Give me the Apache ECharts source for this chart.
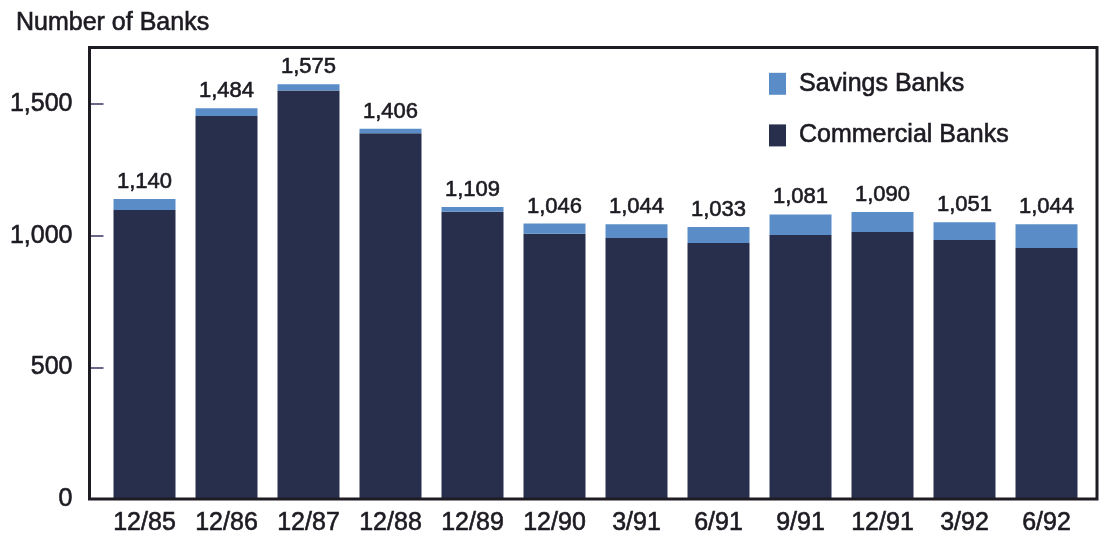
<!DOCTYPE html>
<html>
<head>
<meta charset="utf-8">
<script src="https://cdn.jsdelivr.net/npm/echarts@6/dist/echarts.min.js"></script>
<style>html,body{margin:0;padding:0;background:#fff}#c{width:1101px;height:538px}</style>
</head>
<body>
<div id="c"></div>
<script>
var categories = ['12/85','12/86','12/87','12/88','12/89','12/90','3/91','6/91','9/91','12/91','3/92','6/92'];
var commercialBanks = [1098,1455,1552,1389,1091,1008,991,972,1003,1014,984,953];
var savingsBanks = [42,29,23,17,18,38,53,61,78,76,67,91];
var totalLabels = ['1,140','1,484','1,575','1,406','1,109','1,046','1,044','1,033','1,081','1,090','1,051','1,044'];
var yTicks = [0,500,1000,1500];

var FONT = "'Liberation Sans', Arial, Helvetica, sans-serif";
var TXT = '#1d1a22';
var BW = 0.6;
var chart = echarts.init(document.getElementById('c'), null, {renderer:'canvas'});
var gridLeft = 103.5, gridRight = 13.5, gridTop = 47.5, gridBottom = 39;
chart.setOption({
  animation: false,
  backgroundColor: '#fff',
  textStyle: {fontFamily: FONT},
  title: {
    text: 'Number of Banks', left: 11, top: 6,
    textStyle: {fontFamily: FONT, fontSize: 25, fontWeight: 'normal', color: TXT, textBorderColor: TXT, textBorderWidth: BW}
  },
  legend: {
    left: 764, top: 66, orient: 'vertical',
    itemWidth: 17, itemHeight: 22, itemGap: 26,
    data: ['Savings Banks','Commercial Banks'],
    icon: 'rect',
    textStyle: {fontFamily: FONT, fontSize: 25, color: TXT, padding: [0,0,0,8], textBorderColor: TXT, textBorderWidth: BW}
  },
  graphic: [{
    type: 'rect', z: 100, silent: true,
    shape: {x: 89.5, y: gridTop, width: 1097 - 89.5, height: 538 - gridBottom - gridTop},
    style: {fill: null, stroke: '#1e1b22', lineWidth: 3}
  }],
  grid: {left: gridLeft, right: gridRight, top: gridTop, bottom: gridBottom},
  xAxis: {
    type: 'category', data: categories,
    axisLine: {show: false}, axisTick: {show: false},
    axisLabel: {fontFamily: FONT, fontSize: 25, color: TXT, margin: 12, textBorderColor: TXT, textBorderWidth: BW}
  },
  yAxis: {
    type: 'value', min: 0, max: 1715, interval: 500,
    splitLine: {show: false},
    axisLine: {show: false},
    axisTick: {show: true, inside: false, length: 14, lineStyle: {color: '#3a3560', width: 1.5}},
    axisLabel: {
      fontFamily: FONT, fontSize: 25, color: TXT, margin: 31, showMaxLabel: false,
      textBorderColor: TXT, textBorderWidth: BW,
      formatter: function (v) { return yTicks.indexOf(v) >= 0 ? v.toLocaleString('en-US') : ''; }
    }
  },
  series: [{
    name: 'Commercial Banks', type: 'bar', stack: 'b', data: commercialBanks,
    barWidth: 62,
    itemStyle: {color: '#272f4c'}
  }, {
    name: 'Savings Banks', type: 'bar', stack: 'b', data: savingsBanks,
    barWidth: 62,
    itemStyle: {color: '#5a8dc8'},
    label: {
      show: true, position: 'top', distance: 6,
      fontFamily: FONT, fontSize: 22, color: TXT, textBorderColor: TXT, textBorderWidth: BW,
      formatter: function (p) { return totalLabels[p.dataIndex]; }
    }
  }]
});
</script>
</body>
</html>
